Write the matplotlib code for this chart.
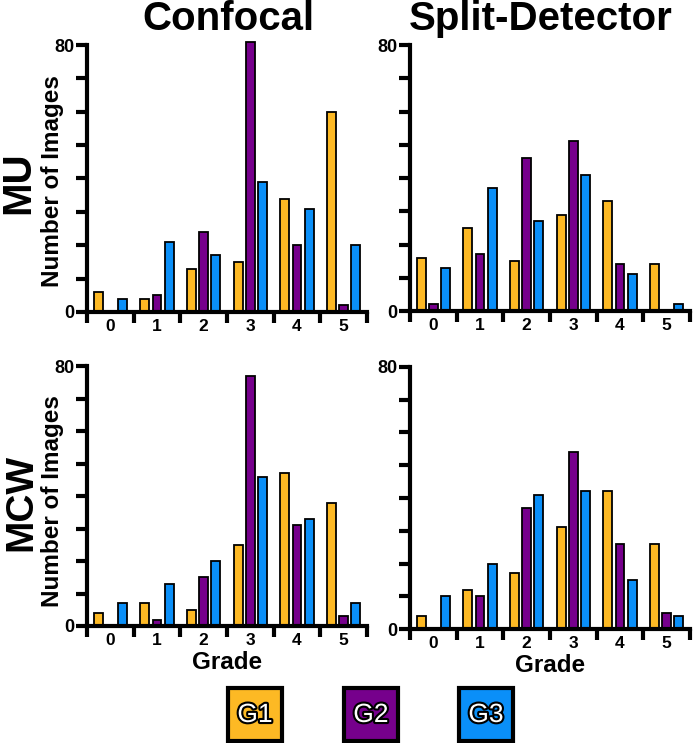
import numpy as np
import matplotlib.pyplot as plt
from matplotlib.patches import Rectangle
import matplotlib.patheffects as pe

plt.rcParams['font.family'] = ['Liberation Sans', 'DejaVu Sans']
plt.rcParams['font.weight'] = 'bold'

grades = ['0', '1', '2', '3', '4', '5']
groups = ['G1', 'G2', 'G3']
colors = ['#FDB924', '#76008C', '#0A8FF8']

mu_confocal_g1 = [6, 4, 13, 15, 34, 60]
mu_confocal_g2 = [0, 5, 24, 81, 20, 2]
mu_confocal_g3 = [4, 21, 17, 39, 31, 20]
mu_split_g1 = [16, 25, 15, 29, 33, 14]
mu_split_g2 = [2, 17, 46, 51, 14, 0]
mu_split_g3 = [13, 37, 27, 41, 11, 2]
mcw_confocal_g1 = [4, 7, 5, 25, 47, 38]
mcw_confocal_g2 = [0, 2, 15, 77, 31, 3]
mcw_confocal_g3 = [7, 13, 20, 46, 33, 7]
mcw_split_g1 = [4, 12, 17, 31, 42, 26]
mcw_split_g2 = [0, 10, 37, 54, 26, 5]
mcw_split_g3 = [10, 20, 41, 42, 15, 4]

W, H = 698, 743


def px_rect(x0, x1, ytop, ybot):
    return [x0 / W, 1 - ybot / H, (x1 - x0) / W, (ybot - ytop) / H]


def draw_panel(ax, series, show_grade):
    x = np.arange(len(grades))
    offsets = [-0.26, 0.0, 0.26]
    for vals, off, c in zip(series, offsets, colors):
        ax.bar(x + off, vals, width=0.19, color=c, edgecolor='black',
               linewidth=1.3, clip_on=False, zorder=3)
    ax.set_xlim(-0.5, 5.5)
    ax.set_ylim(0, 80)
    for s in ['top', 'right']:
        ax.spines[s].set_visible(False)
    for s in ['left', 'bottom']:
        ax.spines[s].set_linewidth(3)
        ax.spines[s].set_zorder(5)
    ax.spines['left'].set_bounds(0, 80)
    ax.spines['bottom'].set_bounds(-0.5, 5.5)
    ax.set_yticks([0, 80])
    ax.set_yticks(np.arange(10, 80, 10), minor=True)
    ax.tick_params(axis='y', which='both', length=8, width=3, pad=1,
                   labelsize=13)
    ax.set_xticks(np.arange(-0.5, 6, 1))
    ax.set_xticklabels([])
    ax.set_xticks(x, minor=True)
    ax.set_xticklabels(grades, minor=True)
    ax.tick_params(axis='x', which='major', length=8, width=3)
    ax.tick_params(axis='x', which='minor', length=0, pad=5, labelsize=12.5)
    if show_grade:
        ax.set_xlabel('Grade', fontsize=17.5, fontweight='bold', labelpad=2)


fig = plt.figure(figsize=(W / 100, H / 100), dpi=100)

ax1 = fig.add_axes(px_rect(87, 367, 45, 312))
ax2 = fig.add_axes(px_rect(410, 690, 45, 311))
ax3 = fig.add_axes(px_rect(87, 367, 366, 626))
ax4 = fig.add_axes(px_rect(410, 690, 367, 629))

draw_panel(ax1, [mu_confocal_g1, mu_confocal_g2, mu_confocal_g3], False)
draw_panel(ax2, [mu_split_g1, mu_split_g2, mu_split_g3], False)
draw_panel(ax3, [mcw_confocal_g1, mcw_confocal_g2, mcw_confocal_g3], True)
draw_panel(ax4, [mcw_split_g1, mcw_split_g2, mcw_split_g3], True)

fig.text(228 / W, 1 - 19 / H, 'Confocal', ha='center', va='center',
         fontsize=29, fontweight='bold')
fig.text(541 / W, 1 - 19 / H, 'Split-Detector', ha='center', va='center',
         fontsize=29, fontweight='bold')

fig.text(18 / W, 1 - 183 / H, 'MU', rotation=90, ha='center', va='center',
         fontsize=29, fontweight='bold')
fig.text(21 / W, 1 - 502 / H, 'MCW', rotation=90, ha='center', va='center',
         fontsize=28, fontweight='bold')
fig.text(53 / W, 1 - 181 / H, 'Number of Images', rotation=90, ha='center',
         va='center', fontsize=17.5, fontweight='bold')
fig.text(53 / W, 1 - 501 / H, 'Number of Images', rotation=90, ha='center',
         va='center', fontsize=17.5, fontweight='bold')

# legend boxes
box_x = [228, 344, 459]
for bx, name, c in zip(box_x, groups, colors):
    fig.add_artist(Rectangle((bx / W, 1 - 741 / H), 54 / W, 53 / H,
                             transform=fig.transFigure, facecolor=c,
                             edgecolor='black', linewidth=3))
    fig.text((bx + 27) / W, 1 - 715 / H, name, ha='center', va='center',
             fontsize=19, color='white', fontweight='normal',
             path_effects=[pe.withStroke(linewidth=3, foreground='black')])

fig.savefig('out.png', dpi=100)
